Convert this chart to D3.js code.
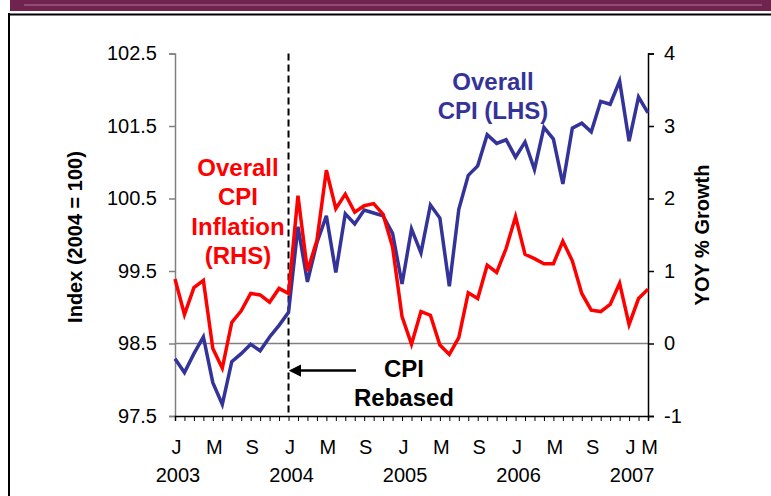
<!DOCTYPE html>
<html>
<head>
<meta charset="utf-8">
<script src="https://cdn.jsdelivr.net/npm/d3@7"></script>
<style>
  body { margin: 0; background: #fff; }
  svg { display: block; font-family: "Liberation Sans", Arial, sans-serif; }
</style>
</head>
<body>
<div id="viz"></div>
<script>
// monthly observations, Jan 2003 .. Mar 2007
const months = d3.range(51).map(i => new Date(2003, i, 1));
const monthLetters = ["J", "M", "S"];
const years = ["2003", "2004", "2005", "2006", "2007"];

// Overall CPI index, 2004 = 100 (LHS)
const cpiIndex = [
  98.29, 98.10, 98.36, 98.59, 97.96, 97.66, 98.25, 98.36, 98.49, 98.40, 98.59, 98.75,
  98.93, 100.11, 99.35, 99.89, 100.26, 99.48, 100.29, 100.15, 100.34, 100.30, 100.26, 100.02,
  99.32, 100.08, 99.75, 100.41, 100.23, 99.29, 100.35, 100.82, 100.95, 101.38, 101.26, 101.31,
  101.07, 101.28, 100.90, 101.48, 101.32, 100.70, 101.47, 101.54, 101.42, 101.84, 101.80, 102.12,
  101.29, 101.90, 101.68
];
// Overall CPI inflation, YOY % (RHS)
const cpiInflation = [
  0.89, 0.40, 0.77, 0.87, -0.07, -0.34, 0.29, 0.45, 0.69, 0.67, 0.57, 0.76,
  0.69, 2.04, 1.00, 1.42, 2.39, 1.86, 2.06, 1.81, 1.90, 1.93, 1.78, 1.33,
  0.37, -0.01, 0.44, 0.39, -0.02, -0.15, 0.08, 0.70, 0.62, 1.08, 0.98, 1.31,
  1.75, 1.23, 1.17, 1.10, 1.10, 1.41, 1.14, 0.69, 0.46, 0.44, 0.54, 0.83,
  0.26, 0.62, 0.75
];
const leftTicks = [97.5, 98.5, 99.5, 100.5, 101.5, 102.5];
const rightTicks = [-1, 0, 1, 2, 3, 4];
const rebaseMonth = new Date(2004, 0, 1);

const width = 771, height = 496;
const blue = "#333399", red = "#ff0000";

const svg = d3.select("#viz").append("svg")
    .attr("width", width)
    .attr("height", height);

// slide frame: banner on top, black rule left and top
svg.append("rect").attr("x", 10).attr("y", 0).attr("width", width - 10).attr("height", 11).attr("fill", "#70234f");
svg.append("line").attr("x1", 24).attr("x2", 762).attr("y1", 5).attr("y2", 5).attr("stroke", "#b07898").attr("stroke-width", 1);
svg.append("line").attr("x1", 9).attr("x2", 9).attr("y1", 13).attr("y2", height).attr("stroke", "#000").attr("stroke-width", 2);
svg.append("line").attr("x1", 8).attr("x2", width).attr("y1", 14.5).attr("y2", 14.5).attr("stroke", "#000").attr("stroke-width", 2);

const x = d3.scalePoint()
    .domain(months)
    .range([175, 648]);

const yL = d3.scaleLinear().domain([97.5, 102.5]).range([416, 53.5]);
const yR = d3.scaleLinear().domain([-1, 4]).range([416, 53.5]);

// zero line of the RHS
svg.append("line")
    .attr("x1", x.range()[0]).attr("x2", x.range()[1])
    .attr("y1", yR(0)).attr("y2", yR(0))
    .attr("stroke", "#808080").attr("stroke-width", 1.5);

// left axis (grey)
const gL = svg.append("g")
    .attr("transform", `translate(${x.range()[0]},0)`)
    .call(d3.axisLeft(yL).tickValues(leftTicks).tickFormat(d3.format(".1f")).tickSize(6).tickPadding(12));
gL.select(".domain").attr("stroke", "#808080").attr("stroke-width", 1.5);
gL.selectAll(".tick line").attr("stroke", "#808080").attr("stroke-width", 1.5);
gL.selectAll(".tick text").attr("font-size", 20).attr("fill", "#000").attr("font-family", null);

// right axis, plain hyphen for negatives
const gR = svg.append("g")
    .attr("transform", `translate(${x.range()[1]},0)`)
    .call(d3.axisRight(yR).tickValues(rightTicks).tickFormat(d => String(d)).tickSize(6).tickPadding(10));
gR.select(".domain").attr("stroke-width", 1.5);
gR.selectAll(".tick line").attr("stroke-width", 1.5);
gR.selectAll(".tick text").attr("font-size", 20).attr("font-family", null);

// bottom axis: a tick per month, labels drawn separately
const gB = svg.append("g")
    .attr("transform", `translate(0,${yL.range()[0]})`)
    .call(d3.axisBottom(x).tickSize(5).tickFormat(""));
gB.select(".domain").attr("stroke-width", 1.5);
gB.selectAll(".tick line").attr("stroke-width", 1);

const labelMonths = months.filter((d, i) => i % 4 === 0 || i === months.length - 1);
svg.append("g")
    .attr("font-size", 20)
    .attr("text-anchor", "middle")
  .selectAll("text")
  .data(labelMonths)
  .join("text")
    .attr("x", d => x(d) + 1.5)
    .attr("y", 454)
    .text(d => d.getMonth() === 2 ? "M" : monthLetters[d.getMonth() / 4]);

svg.append("g")
    .attr("font-size", 20)
    .attr("text-anchor", "middle")
  .selectAll("text")
  .data(years)
  .join("text")
    .attr("x", d => x(new Date(+d, 0, 1)) + 3)
    .attr("y", 482)
    .text(d => d);

// axis titles
svg.append("text")
    .attr("transform", `translate(82,237) rotate(-90)`)
    .attr("text-anchor", "middle")
    .attr("font-size", 20).attr("font-weight", "bold")
    .text("Index (2004 = 100)");
svg.append("text")
    .attr("transform", `translate(709,235) rotate(-90)`)
    .attr("text-anchor", "middle")
    .attr("font-size", 20).attr("font-weight", "bold")
    .text("YOY % Growth");

// rebasing marker
svg.append("line")
    .attr("x1", x(rebaseMonth)).attr("x2", x(rebaseMonth))
    .attr("y1", yL.range()[1]).attr("y2", yL.range()[0])
    .attr("stroke", "#000").attr("stroke-width", 2).attr("stroke-dasharray", "7,4");

const defs = svg.append("defs");
defs.append("marker")
    .attr("id", "arrow")
    .attr("viewBox", "0 0 10 10")
    .attr("refX", 1).attr("refY", 5)
    .attr("markerWidth", 5).attr("markerHeight", 5)
    .attr("orient", "auto-start-reverse")
  .append("path")
    .attr("d", "M0,0L10,5L0,10z");

svg.append("line")
    .attr("x1", 356).attr("x2", 300)
    .attr("y1", 370.5).attr("y2", 370.5)
    .attr("stroke", "#000").attr("stroke-width", 2.5)
    .attr("marker-end", "url(#arrow)");

// series
const lineL = d3.line().x((d, i) => x(months[i])).y(d => yL(d));
const lineR = d3.line().x((d, i) => x(months[i])).y(d => yR(d));

svg.append("path")
    .datum(cpiIndex)
    .attr("fill", "none")
    .attr("stroke", blue)
    .attr("stroke-width", 3.5)
    .attr("d", lineL);

svg.append("path")
    .datum(cpiInflation)
    .attr("fill", "none")
    .attr("stroke", red)
    .attr("stroke-width", 3.5)
    .attr("d", lineR);

// annotations
function label(lines, cx, y0, dy, color) {
  svg.append("text")
      .attr("text-anchor", "middle")
      .attr("font-size", 24).attr("font-weight", "bold")
      .attr("fill", color)
    .selectAll("tspan")
    .data(lines)
    .join("tspan")
      .attr("x", cx)
      .attr("y", (d, i) => y0 + i * dy)
      .text(d => d);
}
label(["Overall", "CPI", "Inflation", "(RHS)"], 238, 176, 29.3, red);
label(["Overall", "CPI (LHS)"], 493, 90, 29, blue);
label(["CPI", "Rebased"], 404, 377, 29, "#000");
</script>
</body>
</html>
